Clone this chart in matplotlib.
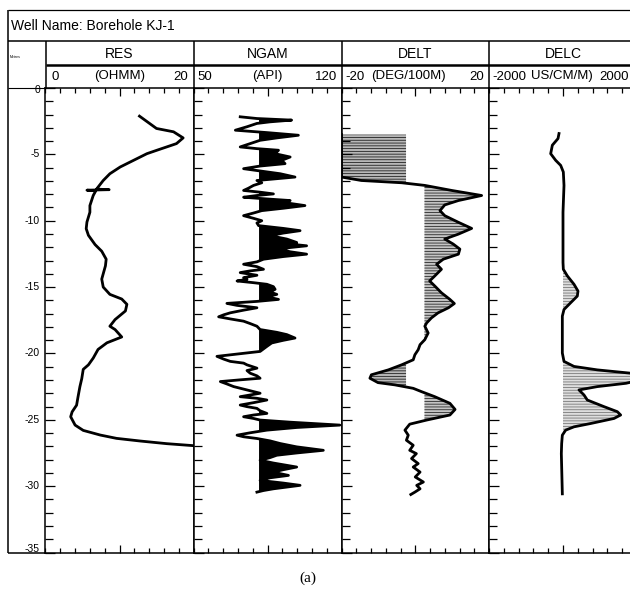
import numpy as np
import matplotlib
matplotlib.use('Agg')
import matplotlib.pyplot as plt
from matplotlib.ticker import MultipleLocator, FixedLocator

plt.rcParams['font.family'] = ['Liberation Sans', 'DejaVu Sans']
plt.rcParams['hatch.linewidth'] = 0.6

# ---------------- data ----------------
well_name = "Well Name: Borehole KJ-1"
track_names = ["RES", "NGAM", "DELT", "DELC"]
track_units = ["(OHMM)", "(API)", "(DEG/100M)", "US/CM/M)"]
track_min = [0, 50, -20, -2000]
track_max = [20, 120, 20, 2000]
depth_ticks = [0, -5, -10, -15, -20, -25, -30, -35]

res_depth = [-2.12, -3.05, -3.3, -3.76, -4.19, -4.7, -4.95, -5.45, -5.95, -6.46,
             -6.97, -7.47, -7.62, -7.66, -7.70, -7.74, -8.1, -8.86, -9.36, -10.1,
             -10.6, -11.1, -11.8, -12.3, -12.9, -13.4, -14.4, -15.0, -15.55, -15.9,
             -16.3, -16.8, -17.45, -17.95, -18.2, -18.76, -19.2, -19.7, -20.35, -20.86,
             -21.2, -21.9, -22.5, -23.26, -23.9, -24.4, -24.77, -25.4, -25.8, -26.15,
             -26.4, -26.6, -26.8, -26.95]
res_value = [12.7, 15.0, 17.3, 18.6, 17.7, 15.0, 13.7, 11.9, 10.1, 8.7,
             7.8, 7.1, 6.9, 8.6, 5.6, 6.8, 6.45, 6.0, 6.0, 5.6,
             5.5, 5.8, 6.7, 7.6, 8.2, 8.1, 7.6, 7.8, 8.7, 10.3,
             11.0, 10.8, 9.4, 8.7, 9.4, 10.3, 8.3, 7.1, 6.45, 5.8,
             5.1, 4.9, 4.65, 4.4, 4.2, 3.6, 3.4, 4.0, 5.1, 7.4,
             9.6, 12.8, 16.4, 20.0]

ngam_depth = [-2.17, -2.30, -2.42, -2.55, -2.67, -2.92, -3.18, -3.36, -3.56, -3.76,
              -3.94, -4.19, -4.44, -4.57, -4.69, -4.95, -5.20, -5.45, -5.70, -5.88,
              -6.08, -6.29, -6.46, -6.71, -6.97, -7.14, -7.34, -7.55, -7.72, -7.85,
              -7.98, -8.10, -8.23, -8.36, -8.48, -8.66, -8.86, -9.06, -9.24, -9.42,
              -9.62, -9.82, -10.00, -10.17, -10.37, -10.58, -10.75, -10.93, -11.13, -11.38,
              -11.64, -11.76, -11.89, -12.02, -12.14, -12.34, -12.52, -12.70, -12.90, -13.10,
              -13.28, -13.46, -13.66, -13.78, -13.91, -14.11, -14.29, -14.42, -14.54, -14.67,
              -14.79, -14.97, -15.17, -15.37, -15.55, -15.73, -15.93, -16.08, -16.23, -16.38,
              -16.56, -16.74, -16.94, -17.09, -17.24, -17.40, -17.57, -17.75, -17.95, -18.20,
              -18.41, -18.58, -18.84, -19.01, -19.21, -19.47, -19.85, -20.02, -20.22, -20.43,
              -20.60, -20.73, -20.86, -21.11, -21.29, -21.49, -21.69, -21.87, -21.99, -22.12,
              -22.30, -22.50, -22.75, -22.88, -23.00, -23.13, -23.26, -23.38, -23.51, -23.71,
              -23.89, -24.01, -24.14, -24.32, -24.52, -24.64, -24.77, -24.90, -25.02, -25.18,
              -25.40, -25.58, -25.78, -25.98, -26.16, -26.28, -26.41, -26.59, -26.79, -27.04,
              -27.30, -27.50, -27.67, -27.85, -28.05, -28.26, -28.43, -28.56, -28.76, -28.94,
              -29.06, -29.19, -29.37, -29.57, -29.77, -29.94, -30.07, -30.20, -30.33, -30.45]
ngam_value = [72.1, 80.0, 96.4, 86.2, 80.0, 75.3, 69.8, 84.7, 99.6, 89.4,
              81.5, 76.8, 72.1, 80.0, 90.2, 88.6, 95.7, 91.7, 93.3, 81.5,
              73.7, 83.1, 91.0, 98.0, 80.0, 82.3, 78.4, 76.0, 73.7, 81.5,
              87.8, 80.0, 73.7, 84.7, 95.7, 94.1, 102.7, 92.5, 82.3, 78.4,
              73.7, 78.4, 82.3, 80.0, 80.8, 92.5, 100.4, 92.5, 86.2, 94.1,
              98.8, 95.7, 103.5, 95.7, 91.0, 95.7, 103.5, 92.5, 83.1, 80.0,
              73.7, 80.0, 83.1, 76.8, 72.1, 80.0, 73.7, 75.3, 70.6, 78.4,
              84.7, 87.8, 88.6, 86.2, 89.4, 84.7, 90.2, 80.0, 65.8, 70.6,
              80.0, 73.7, 67.4, 64.3, 61.9, 67.4, 73.7, 76.8, 80.0, 81.5,
              89.4, 94.1, 98.0, 92.5, 87.0, 84.7, 81.5, 72.1, 61.1, 64.3,
              67.4, 73.7, 75.3, 80.0, 75.3, 76.8, 80.0, 81.5, 72.1, 62.7,
              65.8, 69.0, 75.3, 78.4, 81.5, 76.8, 72.1, 80.0, 84.7, 78.4,
              72.1, 75.3, 80.0, 81.5, 84.7, 78.4, 73.7, 78.4, 81.5, 95.7,
              119.2, 98.8, 84.7, 76.8, 70.6, 73.7, 80.0, 86.2, 91.0, 98.8,
              111.4, 98.8, 89.4, 86.2, 81.5, 87.8, 94.1, 98.8, 92.5, 87.8,
              91.0, 94.9, 86.2, 81.5, 92.5, 100.4, 94.1, 87.8, 83.1, 80.0]
ngam_base = 81.0

delt_depth = [-3.51, -6.71, -6.97, -7.14, -7.34, -7.72, -8.10, -8.48, -8.81, -9.24,
              -9.62, -10.12, -10.58, -11.01, -11.38, -11.76, -12.14, -12.52, -12.90, -13.28,
              -13.66, -14.16, -14.54, -14.92, -15.43, -15.93, -16.24, -16.56, -16.94, -17.32,
              -17.70, -17.95, -18.46, -18.96, -19.34, -19.72, -20.10, -20.48, -20.86, -21.24,
              -21.61, -21.87, -22.20, -22.37, -22.63, -22.88, -23.26, -23.76, -24.22, -24.64,
              -25.02, -25.33, -25.78, -26.16, -26.54, -26.92, -27.30, -27.55, -27.92, -28.30,
              -28.56, -28.94, -29.31, -29.69, -29.94, -30.20, -30.45, -30.63]
delt_value = [-20.0, -20.0, -14.6, -3.7, 2.6, 9.9, 18.0, 11.7, 8.0, 6.7,
              8.0, 11.7, 15.3, 11.7, 8.0, 10.3, 12.1, 11.7, 7.6, 5.8,
              7.1, 5.3, 3.9, 5.3, 7.1, 9.4, 10.6, 9.0, 6.2, 4.4,
              3.1, 2.6, 3.5, 2.6, 1.3, 0.8, -0.1, -0.55, -3.7, -7.3,
              -11.9, -12.3, -10.1, -5.5, -0.55, 1.7, 5.3, 9.4, 10.8, 9.4,
              3.1, -1.5, -2.8, -1.9, -2.4, -0.55, -1.5, 0.3, -1.0, 0.8,
              -0.55, 1.3, 0.0, 2.2, 0.4, 1.3, -0.1, -1.2]
delt_cut = 2.5

delc_depth = [-3.43, -3.81, -4.31, -4.95, -5.45, -5.83, -6.33, -7.34, -9.36, -13.15,
              -13.66, -14.16, -14.79, -15.30, -15.68, -16.18, -16.69, -17.19, -17.95, -19.97,
              -20.60, -20.98, -21.24, -21.49, -21.87, -22.25, -22.50, -22.75, -23.13, -23.51,
              -24.01, -24.39, -24.64, -24.90, -25.28, -25.53, -25.78, -26.16, -26.79, -27.55,
              -28.56, -30.58]
delc_value = [-108, -135, -288, -333, -198, -63, 9, 27, 0, 0,
              9, 117, 297, 405, 387, 207, 27, -18, -18, -18,
              27, 297, 927, 1828, 2300, 1702, 927, 432, 567, 657,
              1108, 1468, 1558, 1378, 747, 297, 72, -18, -36, -45,
              -36, -18]

# ---------------- layout ----------------
W, H = 630, 601
fig = plt.figure(figsize=(W / 100, H / 100), dpi=100)


def rect(x0, y0, x1, y1):
    return [x0 / W, 1 - y1 / H, (x1 - x0) / W, (y1 - y0) / H]


TOP, BOT = 88.0, 552.5
edges = [45.5, 193.5, 341.5, 489.0, 637.0]
LW = 1.1


def make_track(i):
    lo, hi = track_min[i], track_max[i]
    ax = fig.add_axes(rect(edges[i], TOP, edges[i + 1], BOT))
    ax.set_xlim(lo, hi)
    ax.set_ylim(-35, 0)
    for s in ax.spines.values():
        s.set_linewidth(LW)
    ax.xaxis.set_major_locator(FixedLocator([(lo + hi) / 2]))
    ax.xaxis.set_minor_locator(FixedLocator(list(np.linspace(lo, hi, 11))))
    ax.yaxis.set_major_locator(MultipleLocator(5))
    ax.yaxis.set_minor_locator(MultipleLocator(1))
    ax.tick_params(axis='x', which='both', direction='in', top=True, bottom=True,
                   labelbottom=False, labeltop=False, width=0.9)
    ax.tick_params(axis='x', which='major', length=5.5)
    ax.tick_params(axis='x', which='minor', length=3.5)
    ax.tick_params(axis='y', which='both', direction='in', left=True, right=False,
                   labelleft=False, width=0.9)
    ax.tick_params(axis='y', which='major', length=7.5)
    ax.tick_params(axis='y', which='minor', length=5.5)
    return ax


CURVE_LW = 2.0

# RES
ax0 = make_track(0)
ax0.plot(res_value, res_depth, color='black', lw=CURVE_LW, solid_joinstyle='round')

# NGAM
ax1 = make_track(1)
nd = np.array(ngam_depth)
nv = np.array(ngam_value)
ax1.fill_betweenx(nd, ngam_base, nv, where=nv > ngam_base, interpolate=True,
                  color='black', linewidth=0)
ax1.plot(nv, nd, color='black', lw=2.0, solid_joinstyle='round')

# DELT
ax2 = make_track(2)
dd = np.array(delt_depth)
dv = np.array(delt_value)
ax2.fill_betweenx(dd, dv, -delt_cut, where=dv < -delt_cut, interpolate=True,
                  facecolor='#b8b8b8', hatch='------', edgecolor='#222222', linewidth=0)
ax2.fill_betweenx(dd, delt_cut, dv, where=dv > delt_cut, interpolate=True,
                  facecolor='#c4c4c4', hatch='------', edgecolor='#2a2a2a', linewidth=0)
ax2.plot(dv, dd, color='black', lw=CURVE_LW, solid_joinstyle='round')

# DELC
ax3 = make_track(3)
cd = np.array(delc_depth)
cv = np.array(delc_value, dtype=float)
ax3.fill_betweenx(cd, 0, cv, where=cv > 0, interpolate=True,
                  facecolor='#dedede', hatch='------', edgecolor='#7a7a7a', linewidth=0)
ax3.plot(cv, cd, color='black', lw=CURVE_LW, solid_joinstyle='round')

# depth column
axd = fig.add_axes(rect(7.5, TOP, edges[0], BOT))
axd.set_xlim(0, edges[0] - 7.5)
axd.set_ylim(-35, 0)
axd.axis('off')
for d in depth_ticks:
    yy = d
    if d == 0:
        yy = -0.15
    elif d == -35:
        yy = -34.7
    axd.text(32.5, yy, str(d), fontsize=7.5, ha='right', va='center')

# header / frame overlay
ov = fig.add_axes([0, 0, 1, 1])
ov.set_xlim(0, W)
ov.set_ylim(H, 0)
ov.axis('off')
ov.patch.set_visible(False)
kw = dict(color='black', solid_capstyle='butt')
ov.plot([7.5, 640], [10, 10], lw=0.9, **kw)
ov.plot([7.5, 640], [40.7, 40.7], lw=LW, **kw)
ov.plot([7.5, 7.5], [10, BOT], lw=LW, **kw)
ov.plot([7.5, edges[0]], [BOT, BOT], lw=LW, **kw)
ov.plot([7.5, edges[0]], [TOP, TOP], lw=0.8, **kw)
ov.plot([edges[0], 640], [65, 65], lw=1.8, **kw)
for x in edges[:4]:
    ov.plot([x, x], [40.7, TOP], lw=LW, **kw)

ov.text(11, 25.5, well_name, fontsize=10, va='center', ha='left')
ov.text(10, 57, 'Metres', fontsize=2.5, va='center', ha='left')

for i, name in enumerate(track_names):
    cx = (edges[i] + edges[i + 1]) / 2
    ov.text(cx, 53.5, name, fontsize=10, ha='center', va='center')

UY = 76.5
# RES units
ov.text(edges[0] + 6, UY, f"{track_min[0]}", fontsize=9.5, ha='left', va='center')
ov.text((edges[0] + edges[1]) / 2, UY, track_units[0], fontsize=9.5, ha='center', va='center')
ov.text(edges[1] - 5, UY, f"{track_max[0]}", fontsize=9.5, ha='right', va='center')
# NGAM units
ov.text(edges[1] + 4, UY, f"{track_min[1]}", fontsize=9.5, ha='left', va='center')
ov.text((edges[1] + edges[2]) / 2, UY, track_units[1], fontsize=9.5, ha='center', va='center')
ov.text(edges[2] - 4, UY, f"{track_max[1]}", fontsize=9.5, ha='right', va='center')
# DELT units
ov.text(edges[2] + 4, UY, f"{track_min[2]}", fontsize=9.5, ha='left', va='center')
ov.text(408, UY, track_units[2], fontsize=9.5, ha='center', va='center')
ov.text(edges[3] - 5, UY, f"{track_max[2]}", fontsize=9.5, ha='right', va='center')
# DELC units
ov.text(edges[3] + 3, UY, f"{track_min[3]}", fontsize=9.5, ha='left', va='center')
ov.text(531, UY, track_units[3], fontsize=9.5, ha='left', va='center')
ov.text(629, UY, f"{track_max[3]}", fontsize=9.5, ha='right', va='center')

ov.text(308, 578, '(a)', family=['Liberation Serif', 'DejaVu Serif'], fontsize=11,
        ha='center', va='center')

fig.savefig('out.png', dpi=100, facecolor='white')
